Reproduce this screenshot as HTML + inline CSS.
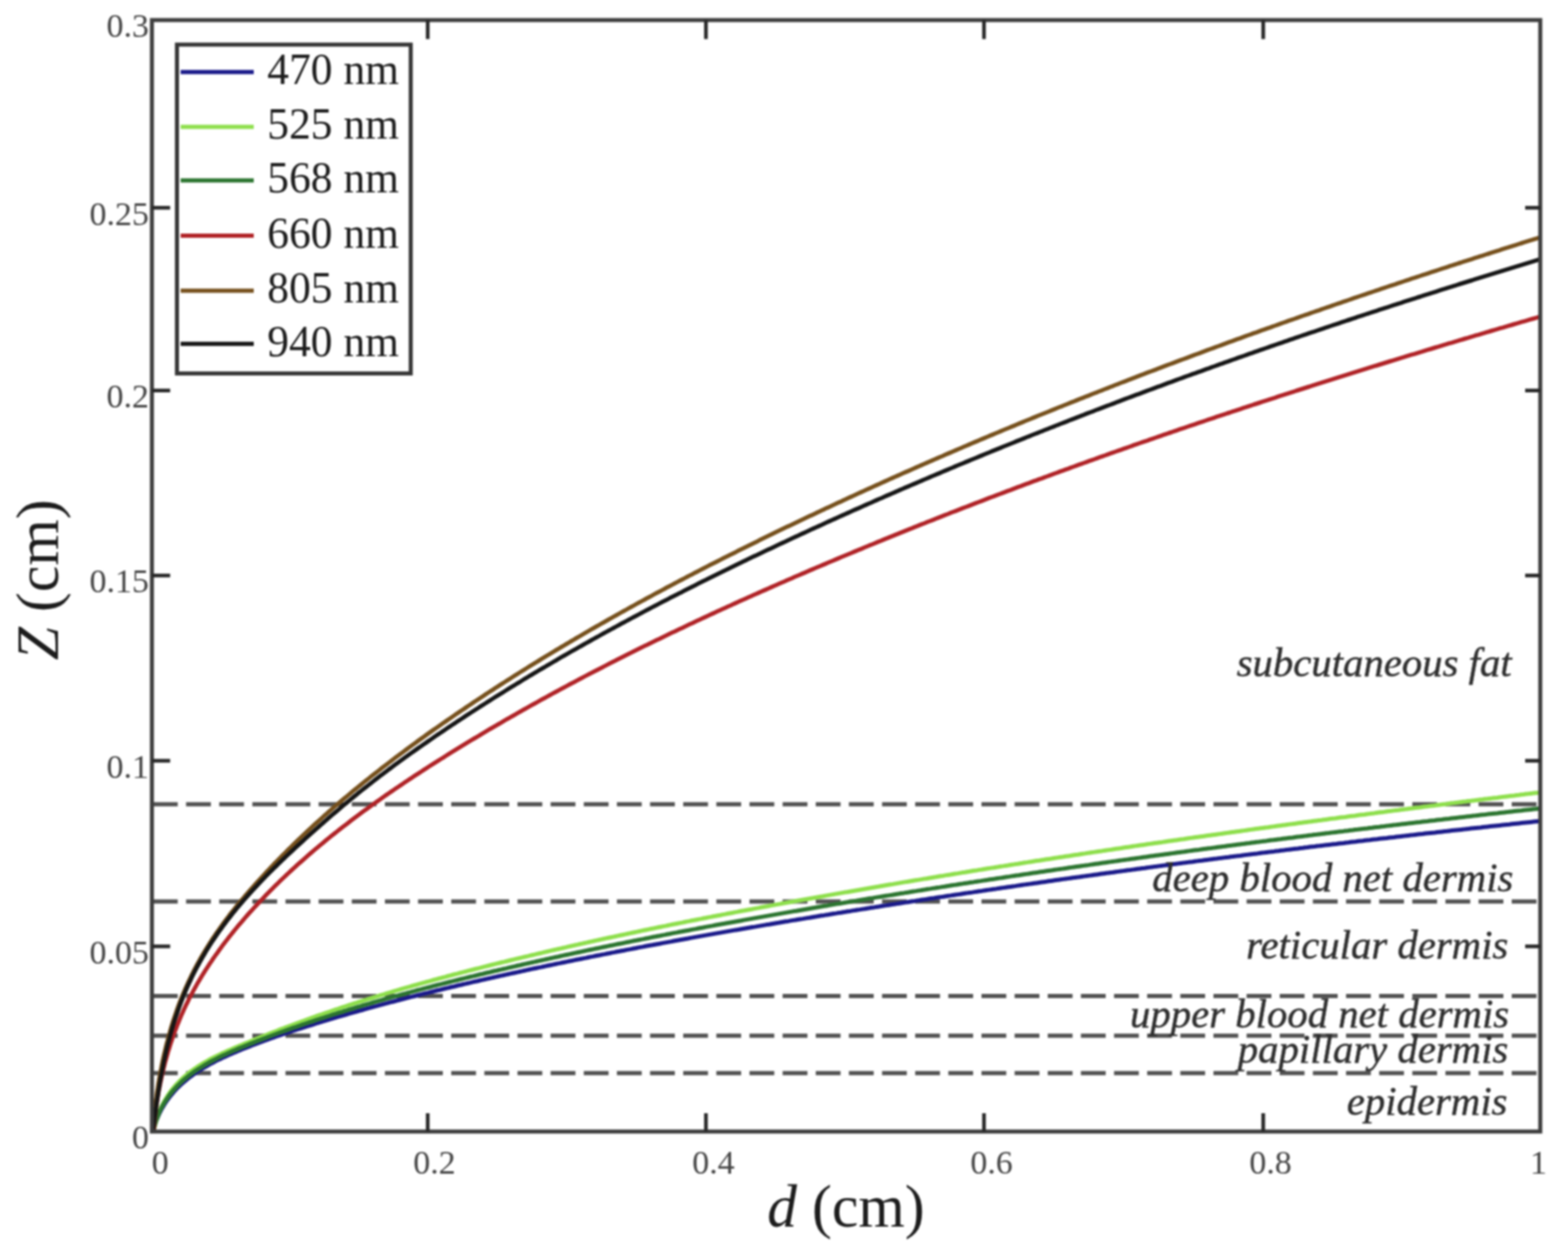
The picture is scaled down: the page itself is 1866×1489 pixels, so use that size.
<!DOCTYPE html>
<html><head><meta charset="utf-8"><title>Z vs d</title>
<style>html,body{margin:0;padding:0;background:#fff;overflow:hidden}svg{display:block}#w{filter:blur(1px)}</style>
</head><body>
<div id="w"><svg width="1866" height="1489" viewBox="0 0 1866 1489">
<rect width="1866" height="1489" fill="#fff"/>
<line x1="182" y1="957.2" x2="1829" y2="957.2" stroke="#525252" stroke-width="5" stroke-dasharray="29.5 9.94"/>
<line x1="182" y1="1072.9" x2="1829" y2="1072.9" stroke="#525252" stroke-width="5" stroke-dasharray="29.5 9.94"/>
<line x1="182" y1="1185.6" x2="1829" y2="1185.6" stroke="#525252" stroke-width="5" stroke-dasharray="29.5 9.94"/>
<line x1="182" y1="1232.8" x2="1829" y2="1232.8" stroke="#525252" stroke-width="5" stroke-dasharray="29.5 9.94"/>
<line x1="182" y1="1277.2" x2="1829" y2="1277.2" stroke="#525252" stroke-width="5" stroke-dasharray="29.5 9.94"/>
<polyline fill="none" stroke="#1a1a8a" stroke-width="5" stroke-linejoin="round" points="181.7,1347.6 182.5,1344.5 183.4,1341.4 184.3,1338.5 185.3,1335.6 186.4,1332.7 187.6,1329.9 188.8,1327.2 190.0,1324.6 191.4,1322.0 192.7,1319.4 194.2,1316.9 195.7,1314.5 197.2,1312.1 198.8,1309.8 200.5,1307.5 202.2,1305.3 203.9,1303.1 205.7,1301.0 207.5,1298.9 209.4,1296.8 211.3,1294.8 213.3,1292.9 215.3,1291.0 217.4,1289.1 219.5,1287.3 221.6,1285.5 223.7,1283.8 225.9,1282.1 228.2,1280.4 230.4,1278.8 232.7,1277.2 235.0,1275.6 237.4,1274.1 239.7,1272.6 242.1,1271.1 244.6,1269.7 247.0,1268.3 249.5,1266.9 252.0,1265.6 254.5,1264.2 257.0,1262.9 259.6,1261.6 262.2,1260.4 264.8,1259.1 267.4,1257.9 270.0,1256.7 272.6,1255.5 275.2,1254.4 277.9,1253.2 280.6,1252.1 283.2,1251.0 285.9,1249.9 288.6,1248.8 291.3,1247.7 294.0,1246.6 296.7,1245.6 299.4,1244.5 302.1,1243.5 304.8,1242.4 307.5,1241.4 310.2,1240.4 312.9,1239.4 315.6,1238.4 318.4,1237.4 321.1,1236.4 323.8,1235.4 326.6,1234.5 329.3,1233.5 332.0,1232.6 334.8,1231.6 337.5,1230.7 340.3,1229.8 343.0,1228.9 345.8,1227.9 348.5,1227.0 351.3,1226.1 354.0,1225.2 356.8,1224.3 359.6,1223.5 362.3,1222.6 365.1,1221.7 367.8,1220.8 370.6,1220.0 373.4,1219.1 376.1,1218.2 378.9,1217.4 381.6,1216.5 384.4,1215.7 387.2,1214.9 389.9,1214.0 392.7,1213.2 395.5,1212.4 398.2,1211.5 401.0,1210.7 403.8,1209.9 406.6,1209.1 409.3,1208.3 412.1,1207.5 414.9,1206.7 417.6,1205.9 420.4,1205.1 423.2,1204.3 426.0,1203.5 428.7,1202.7 431.5,1202.0 434.3,1201.2 437.1,1200.4 439.8,1199.7 442.6,1198.9 445.4,1198.1 448.2,1197.4 450.9,1196.6 453.7,1195.9 456.5,1195.1 459.3,1194.4 462.1,1193.6 464.8,1192.9 467.6,1192.2 470.4,1191.5 473.2,1190.7 476.0,1190.0 478.8,1189.3 481.5,1188.6 484.3,1187.9 487.1,1187.1 489.9,1186.4 492.7,1185.7 495.5,1185.0 498.3,1184.3 501.0,1183.6 503.8,1182.9 506.6,1182.2 509.4,1181.6 512.2,1180.9 515.0,1180.2 517.8,1179.5 520.6,1178.8 523.4,1178.2 526.2,1177.5 529.0,1176.8 531.8,1176.1 534.5,1175.5 537.3,1174.8 540.1,1174.2 542.9,1173.5 545.7,1172.8 548.5,1172.2 551.3,1171.5 554.1,1170.9 556.9,1170.2 559.7,1169.6 562.5,1168.9 565.3,1168.3 568.1,1167.7 570.9,1167.0 573.7,1166.4 576.5,1165.8 579.3,1165.1 582.1,1164.5 584.9,1163.9 587.7,1163.2 590.5,1162.6 593.3,1162.0 596.1,1161.4 599.0,1160.8 601.8,1160.1 604.6,1159.5 607.4,1158.9 610.2,1158.3 613.0,1157.7 615.8,1157.1 618.6,1156.5 621.4,1155.9 624.2,1155.2 627.0,1154.6 629.8,1154.0 632.6,1153.4 635.5,1152.8 638.3,1152.2 641.1,1151.6 643.9,1151.1 646.7,1150.5 649.5,1149.9 652.3,1149.3 655.1,1148.7 658.0,1148.1 660.8,1147.5 663.6,1146.9 666.4,1146.4 669.2,1145.8 672.0,1145.2 674.9,1144.6 677.7,1144.0 680.5,1143.5 683.3,1142.9 686.1,1142.3 688.9,1141.8 691.8,1141.2 694.6,1140.6 697.4,1140.1 700.2,1139.5 703.0,1138.9 705.9,1138.4 708.7,1137.8 711.5,1137.2 714.3,1136.7 717.1,1136.1 720.0,1135.6 722.8,1135.0 725.6,1134.5 728.4,1133.9 731.3,1133.4 734.1,1132.8 736.9,1132.3 739.7,1131.7 742.6,1131.2 745.4,1130.6 748.2,1130.1 751.0,1129.6 753.9,1129.0 756.7,1128.5 759.5,1127.9 762.3,1127.4 765.2,1126.9 768.0,1126.3 770.8,1125.8 773.6,1125.3 776.5,1124.8 779.3,1124.2 782.1,1123.7 785.0,1123.2 787.8,1122.6 790.6,1122.1 793.5,1121.6 796.3,1121.1 799.1,1120.6 801.9,1120.0 804.8,1119.5 807.6,1119.0 810.4,1118.5 813.3,1118.0 816.1,1117.5 818.9,1117.0 821.8,1116.4 824.6,1115.9 827.4,1115.4 830.3,1114.9 833.1,1114.4 835.9,1113.9 838.8,1113.4 841.6,1112.9 844.4,1112.4 847.3,1111.9 850.1,1111.4 852.9,1110.9 855.8,1110.4 858.6,1109.9 861.4,1109.4 864.3,1108.9 867.1,1108.4 870.0,1107.9 872.8,1107.4 875.6,1106.9 878.5,1106.5 881.3,1106.0 884.1,1105.5 887.0,1105.0 889.8,1104.5 892.7,1104.0 895.5,1103.5 898.3,1103.1 901.2,1102.6 904.0,1102.1 906.8,1101.6 909.7,1101.1 912.5,1100.6 915.4,1100.2 918.2,1099.7 921.0,1099.2 923.9,1098.7 926.7,1098.3 929.6,1097.8 932.4,1097.3 935.2,1096.8 938.1,1096.4 940.9,1095.9 943.8,1095.4 946.6,1095.0 949.4,1094.5 952.3,1094.0 955.1,1093.6 958.0,1093.1 960.8,1092.6 963.6,1092.2 966.5,1091.7 969.3,1091.2 972.2,1090.8 975.0,1090.3 977.8,1089.8 980.7,1089.4 983.5,1088.9 986.4,1088.5 989.2,1088.0 992.1,1087.5 994.9,1087.1 997.7,1086.6 1000.6,1086.2 1003.4,1085.7 1006.3,1085.3 1009.1,1084.8 1012.0,1084.4 1014.8,1083.9 1017.6,1083.5 1020.5,1083.0 1023.3,1082.6 1026.2,1082.1 1029.0,1081.7 1031.9,1081.2 1034.7,1080.8 1037.5,1080.3 1040.4,1079.9 1043.2,1079.4 1046.1,1079.0 1048.9,1078.5 1051.8,1078.1 1054.6,1077.6 1057.4,1077.2 1060.3,1076.7 1063.1,1076.3 1066.0,1075.9 1068.8,1075.4 1071.7,1075.0 1074.5,1074.5 1077.3,1074.1 1080.2,1073.7 1083.0,1073.2 1085.9,1072.8 1088.7,1072.4 1091.6,1071.9 1094.4,1071.5 1097.3,1071.0 1100.1,1070.6 1102.9,1070.2 1105.8,1069.7 1108.6,1069.3 1111.5,1068.9 1114.3,1068.4 1117.2,1068.0 1120.0,1067.6 1122.9,1067.2 1125.7,1066.7 1128.6,1066.3 1131.4,1065.9 1134.2,1065.4 1137.1,1065.0 1139.9,1064.6 1142.8,1064.2 1145.6,1063.7 1148.5,1063.3 1151.3,1062.9 1154.2,1062.5 1157.0,1062.1 1159.9,1061.6 1162.7,1061.2 1165.5,1060.8 1168.4,1060.4 1171.2,1059.9 1174.1,1059.5 1176.9,1059.1 1179.8,1058.7 1182.6,1058.3 1185.5,1057.9 1188.3,1057.4 1191.2,1057.0 1194.0,1056.6 1196.9,1056.2 1199.7,1055.8 1202.6,1055.4 1205.4,1055.0 1208.2,1054.6 1211.1,1054.1 1213.9,1053.7 1216.8,1053.3 1219.6,1052.9 1222.5,1052.5 1225.3,1052.1 1228.2,1051.7 1231.0,1051.3 1233.9,1050.9 1236.7,1050.5 1239.6,1050.1 1242.4,1049.7 1245.3,1049.3 1248.1,1048.8 1251.0,1048.4 1253.8,1048.0 1256.7,1047.6 1259.5,1047.2 1262.4,1046.8 1265.2,1046.4 1268.1,1046.0 1270.9,1045.6 1273.8,1045.2 1276.6,1044.8 1279.4,1044.4 1282.3,1044.1 1285.1,1043.7 1288.0,1043.3 1290.8,1042.9 1293.7,1042.5 1296.5,1042.1 1299.4,1041.7 1302.2,1041.3 1305.1,1040.9 1307.9,1040.5 1310.8,1040.1 1313.6,1039.7 1316.5,1039.3 1319.3,1038.9 1322.2,1038.6 1325.0,1038.2 1327.9,1037.8 1330.7,1037.4 1333.6,1037.0 1336.4,1036.6 1339.3,1036.2 1342.1,1035.8 1345.0,1035.5 1347.8,1035.1 1350.7,1034.7 1353.5,1034.3 1356.4,1033.9 1359.2,1033.5 1362.1,1033.2 1365.0,1032.8 1367.8,1032.4 1370.7,1032.0 1373.5,1031.6 1376.4,1031.3 1379.2,1030.9 1382.1,1030.5 1384.9,1030.1 1387.8,1029.8 1390.6,1029.4 1393.5,1029.0 1396.3,1028.6 1399.2,1028.3 1402.0,1027.9 1404.9,1027.5 1407.7,1027.1 1410.6,1026.8 1413.4,1026.4 1416.3,1026.0 1419.1,1025.7 1422.0,1025.3 1424.8,1024.9 1427.7,1024.5 1430.5,1024.2 1433.4,1023.8 1436.3,1023.4 1439.1,1023.1 1442.0,1022.7 1444.8,1022.3 1447.7,1022.0 1450.5,1021.6 1453.4,1021.3 1456.2,1020.9 1459.1,1020.5 1461.9,1020.2 1464.8,1019.8 1467.6,1019.4 1470.5,1019.1 1473.3,1018.7 1476.2,1018.4 1479.1,1018.0 1481.9,1017.6 1484.8,1017.3 1487.6,1016.9 1490.5,1016.6 1493.3,1016.2 1496.2,1015.9 1499.0,1015.5 1501.9,1015.1 1504.7,1014.8 1507.6,1014.4 1510.5,1014.1 1513.3,1013.7 1516.2,1013.4 1519.0,1013.0 1521.9,1012.7 1524.7,1012.3 1527.6,1012.0 1530.4,1011.6 1533.3,1011.3 1536.2,1010.9 1539.0,1010.6 1541.9,1010.2 1544.7,1009.9 1547.6,1009.5 1550.4,1009.2 1553.3,1008.8 1556.1,1008.5 1559.0,1008.1 1561.9,1007.8 1564.7,1007.5 1567.6,1007.1 1570.4,1006.8 1573.3,1006.4 1576.1,1006.1 1579.0,1005.7 1581.9,1005.4 1584.7,1005.1 1587.6,1004.7 1590.4,1004.4 1593.3,1004.0 1596.1,1003.7 1599.0,1003.4 1601.9,1003.0 1604.7,1002.7 1607.6,1002.3 1610.4,1002.0 1613.3,1001.7 1616.1,1001.3 1619.0,1001.0 1621.9,1000.7 1624.7,1000.3 1627.6,1000.0 1630.4,999.7 1633.3,999.3 1636.1,999.0 1639.0,998.7 1641.9,998.3 1644.7,998.0 1647.6,997.7 1650.4,997.4 1653.3,997.0 1656.2,996.7 1659.0,996.4 1661.9,996.0 1664.7,995.7 1667.6,995.4 1670.5,995.1 1673.3,994.7 1676.2,994.4 1679.0,994.1 1681.9,993.8 1684.8,993.4 1687.6,993.1 1690.5,992.8 1693.3,992.5 1696.2,992.1 1699.0,991.8 1701.9,991.5 1704.8,991.2 1707.6,990.9 1710.5,990.5 1713.4,990.2 1716.2,989.9 1719.1,989.6 1721.9,989.3 1724.8,988.9 1727.7,988.6 1730.5,988.3 1733.4,988.0 1736.2,987.7 1739.1,987.4 1742.0,987.1 1744.8,986.7 1747.7,986.4 1750.5,986.1 1753.4,985.8 1756.3,985.5 1759.1,985.2 1762.0,984.9 1764.9,984.5 1767.7,984.2 1770.6,983.9 1773.4,983.6 1776.3,983.3 1779.2,983.0 1782.0,982.7 1784.9,982.4 1787.7,982.1 1790.6,981.8 1793.5,981.5 1796.3,981.2 1799.2,980.8 1802.1,980.5 1804.9,980.2 1807.8,979.9 1810.7,979.6 1813.5,979.3 1816.4,979.0 1819.2,978.7 1822.1,978.4 1825.0,978.1 1827.8,977.8 1830.7,977.5 1833.6,977.2"/>
<polyline fill="none" stroke="#8edf4c" stroke-width="5" stroke-linejoin="round" points="182.7,1348.3 183.3,1345.0 183.9,1341.8 184.6,1338.7 185.4,1335.7 186.3,1332.7 187.2,1329.7 188.2,1326.8 189.3,1324.0 190.4,1321.2 191.6,1318.5 192.8,1315.9 194.2,1313.3 195.5,1310.7 197.0,1308.2 198.5,1305.8 200.0,1303.4 201.6,1301.1 203.3,1298.8 205.0,1296.6 206.8,1294.4 208.6,1292.3 210.5,1290.2 212.4,1288.2 214.3,1286.2 216.4,1284.3 218.4,1282.4 220.5,1280.6 222.6,1278.8 224.8,1277.0 227.0,1275.3 229.3,1273.7 231.6,1272.0 233.9,1270.5 236.3,1268.9 238.7,1267.4 241.1,1265.9 243.5,1264.5 246.0,1263.1 248.5,1261.7 251.0,1260.3 253.6,1259.0 256.1,1257.7 258.7,1256.4 261.3,1255.2 263.9,1253.9 266.6,1252.7 269.2,1251.5 271.9,1250.3 274.6,1249.2 277.2,1248.0 279.9,1246.9 282.6,1245.7 285.3,1244.6 288.0,1243.5 290.7,1242.4 293.4,1241.3 296.1,1240.2 298.8,1239.1 301.5,1238.0 304.2,1236.9 306.9,1235.8 309.7,1234.7 312.4,1233.6 315.1,1232.6 317.8,1231.5 320.5,1230.4 323.2,1229.4 325.9,1228.3 328.6,1227.3 331.3,1226.2 334.0,1225.2 336.7,1224.2 339.4,1223.1 342.2,1222.1 344.9,1221.1 347.6,1220.1 350.3,1219.0 353.0,1218.0 355.7,1217.0 358.5,1216.0 361.2,1215.1 363.9,1214.1 366.6,1213.1 369.4,1212.1 372.1,1211.1 374.8,1210.2 377.5,1209.2 380.3,1208.2 383.0,1207.3 385.7,1206.3 388.5,1205.4 391.2,1204.5 394.0,1203.5 396.7,1202.6 399.4,1201.7 402.2,1200.8 404.9,1199.8 407.7,1198.9 410.4,1198.0 413.2,1197.1 415.9,1196.2 418.7,1195.3 421.4,1194.4 424.2,1193.6 426.9,1192.7 429.7,1191.8 432.5,1190.9 435.2,1190.1 438.0,1189.2 440.8,1188.3 443.5,1187.5 446.3,1186.6 449.0,1185.8 451.8,1184.9 454.6,1184.1 457.4,1183.3 460.1,1182.4 462.9,1181.6 465.7,1180.8 468.5,1180.0 471.2,1179.2 474.0,1178.3 476.8,1177.5 479.6,1176.7 482.3,1175.9 485.1,1175.1 487.9,1174.3 490.7,1173.5 493.5,1172.7 496.3,1172.0 499.0,1171.2 501.8,1170.4 504.6,1169.6 507.4,1168.8 510.2,1168.1 513.0,1167.3 515.8,1166.5 518.6,1165.8 521.4,1165.0 524.2,1164.3 527.0,1163.5 529.7,1162.8 532.5,1162.0 535.3,1161.3 538.1,1160.5 540.9,1159.8 543.7,1159.1 546.5,1158.3 549.3,1157.6 552.1,1156.9 554.9,1156.2 557.7,1155.4 560.5,1154.7 563.4,1154.0 566.2,1153.3 569.0,1152.6 571.8,1151.9 574.6,1151.1 577.4,1150.4 580.2,1149.7 583.0,1149.0 585.8,1148.3 588.6,1147.6 591.4,1146.9 594.2,1146.2 597.0,1145.5 599.9,1144.9 602.7,1144.2 605.5,1143.5 608.3,1142.8 611.1,1142.1 613.9,1141.4 616.7,1140.8 619.5,1140.1 622.4,1139.4 625.2,1138.7 628.0,1138.1 630.8,1137.4 633.6,1136.7 636.4,1136.1 639.3,1135.4 642.1,1134.7 644.9,1134.1 647.7,1133.4 650.5,1132.8 653.3,1132.1 656.2,1131.4 659.0,1130.8 661.8,1130.1 664.6,1129.5 667.5,1128.9 670.3,1128.2 673.1,1127.6 675.9,1126.9 678.7,1126.3 681.6,1125.6 684.4,1125.0 687.2,1124.4 690.0,1123.7 692.9,1123.1 695.7,1122.5 698.5,1121.9 701.3,1121.2 704.2,1120.6 707.0,1120.0 709.8,1119.4 712.6,1118.8 715.5,1118.1 718.3,1117.5 721.1,1116.9 724.0,1116.3 726.8,1115.7 729.6,1115.1 732.5,1114.5 735.3,1113.9 738.1,1113.3 740.9,1112.7 743.8,1112.1 746.6,1111.5 749.4,1110.9 752.3,1110.3 755.1,1109.7 757.9,1109.1 760.8,1108.5 763.6,1107.9 766.4,1107.3 769.3,1106.7 772.1,1106.1 775.0,1105.5 777.8,1105.0 780.6,1104.4 783.5,1103.8 786.3,1103.2 789.1,1102.6 792.0,1102.1 794.8,1101.5 797.6,1100.9 800.5,1100.3 803.3,1099.8 806.2,1099.2 809.0,1098.6 811.8,1098.1 814.7,1097.5 817.5,1096.9 820.4,1096.4 823.2,1095.8 826.0,1095.3 828.9,1094.7 831.7,1094.1 834.6,1093.6 837.4,1093.0 840.2,1092.5 843.1,1091.9 845.9,1091.4 848.8,1090.8 851.6,1090.3 854.5,1089.7 857.3,1089.2 860.1,1088.6 863.0,1088.1 865.8,1087.5 868.7,1087.0 871.5,1086.5 874.4,1085.9 877.2,1085.4 880.1,1084.8 882.9,1084.3 885.8,1083.8 888.6,1083.2 891.4,1082.7 894.3,1082.2 897.1,1081.6 900.0,1081.1 902.8,1080.6 905.7,1080.0 908.5,1079.5 911.4,1079.0 914.2,1078.5 917.1,1077.9 919.9,1077.4 922.8,1076.9 925.6,1076.4 928.5,1075.9 931.3,1075.3 934.2,1074.8 937.0,1074.3 939.9,1073.8 942.7,1073.3 945.6,1072.8 948.4,1072.2 951.3,1071.7 954.1,1071.2 957.0,1070.7 959.8,1070.2 962.7,1069.7 965.5,1069.2 968.4,1068.7 971.2,1068.2 974.1,1067.7 976.9,1067.2 979.8,1066.7 982.6,1066.1 985.5,1065.6 988.3,1065.1 991.2,1064.6 994.0,1064.1 996.9,1063.6 999.7,1063.1 1002.6,1062.6 1005.4,1062.1 1008.3,1061.7 1011.1,1061.2 1014.0,1060.7 1016.8,1060.2 1019.7,1059.7 1022.6,1059.2 1025.4,1058.7 1028.3,1058.2 1031.1,1057.7 1034.0,1057.2 1036.8,1056.7 1039.7,1056.2 1042.5,1055.7 1045.4,1055.3 1048.2,1054.8 1051.1,1054.3 1053.9,1053.8 1056.8,1053.3 1059.7,1052.8 1062.5,1052.4 1065.4,1051.9 1068.2,1051.4 1071.1,1050.9 1073.9,1050.4 1076.8,1049.9 1079.6,1049.5 1082.5,1049.0 1085.4,1048.5 1088.2,1048.0 1091.1,1047.6 1093.9,1047.1 1096.8,1046.6 1099.6,1046.1 1102.5,1045.7 1105.3,1045.2 1108.2,1044.7 1111.1,1044.2 1113.9,1043.8 1116.8,1043.3 1119.6,1042.8 1122.5,1042.4 1125.3,1041.9 1128.2,1041.4 1131.1,1041.0 1133.9,1040.5 1136.8,1040.0 1139.6,1039.6 1142.5,1039.1 1145.3,1038.6 1148.2,1038.2 1151.1,1037.7 1153.9,1037.3 1156.8,1036.8 1159.6,1036.3 1162.5,1035.9 1165.4,1035.4 1168.2,1035.0 1171.1,1034.5 1173.9,1034.0 1176.8,1033.6 1179.6,1033.1 1182.5,1032.7 1185.4,1032.2 1188.2,1031.8 1191.1,1031.3 1193.9,1030.9 1196.8,1030.4 1199.7,1030.0 1202.5,1029.5 1205.4,1029.1 1208.2,1028.6 1211.1,1028.2 1214.0,1027.7 1216.8,1027.3 1219.7,1026.8 1222.5,1026.4 1225.4,1025.9 1228.3,1025.5 1231.1,1025.0 1234.0,1024.6 1236.8,1024.2 1239.7,1023.7 1242.6,1023.3 1245.4,1022.8 1248.3,1022.4 1251.1,1022.0 1254.0,1021.5 1256.9,1021.1 1259.7,1020.6 1262.6,1020.2 1265.5,1019.8 1268.3,1019.3 1271.2,1018.9 1274.0,1018.5 1276.9,1018.0 1279.8,1017.6 1282.6,1017.2 1285.5,1016.7 1288.4,1016.3 1291.2,1015.9 1294.1,1015.4 1296.9,1015.0 1299.8,1014.6 1302.7,1014.1 1305.5,1013.7 1308.4,1013.3 1311.3,1012.9 1314.1,1012.4 1317.0,1012.0 1319.8,1011.6 1322.7,1011.2 1325.6,1010.7 1328.4,1010.3 1331.3,1009.9 1334.2,1009.5 1337.0,1009.0 1339.9,1008.6 1342.8,1008.2 1345.6,1007.8 1348.5,1007.3 1351.3,1006.9 1354.2,1006.5 1357.1,1006.1 1359.9,1005.7 1362.8,1005.3 1365.7,1004.8 1368.5,1004.4 1371.4,1004.0 1374.3,1003.6 1377.1,1003.2 1380.0,1002.8 1382.9,1002.4 1385.7,1001.9 1388.6,1001.5 1391.5,1001.1 1394.3,1000.7 1397.2,1000.3 1400.1,999.9 1402.9,999.5 1405.8,999.1 1408.7,998.7 1411.5,998.2 1414.4,997.8 1417.2,997.4 1420.1,997.0 1423.0,996.6 1425.8,996.2 1428.7,995.8 1431.6,995.4 1434.4,995.0 1437.3,994.6 1440.2,994.2 1443.0,993.8 1445.9,993.4 1448.8,993.0 1451.6,992.6 1454.5,992.2 1457.4,991.8 1460.2,991.4 1463.1,991.0 1466.0,990.6 1468.9,990.2 1471.7,989.8 1474.6,989.4 1477.5,989.0 1480.3,988.6 1483.2,988.2 1486.1,987.8 1488.9,987.4 1491.8,987.0 1494.7,986.6 1497.5,986.2 1500.4,985.8 1503.3,985.4 1506.1,985.0 1509.0,984.7 1511.9,984.3 1514.7,983.9 1517.6,983.5 1520.5,983.1 1523.3,982.7 1526.2,982.3 1529.1,981.9 1532.0,981.5 1534.8,981.1 1537.7,980.8 1540.6,980.4 1543.4,980.0 1546.3,979.6 1549.2,979.2 1552.0,978.8 1554.9,978.4 1557.8,978.1 1560.6,977.7 1563.5,977.3 1566.4,976.9 1569.3,976.5 1572.1,976.2 1575.0,975.8 1577.9,975.4 1580.7,975.0 1583.6,974.6 1586.5,974.2 1589.3,973.9 1592.2,973.5 1595.1,973.1 1598.0,972.7 1600.8,972.4 1603.7,972.0 1606.6,971.6 1609.4,971.2 1612.3,970.9 1615.2,970.5 1618.1,970.1 1620.9,969.7 1623.8,969.4 1626.7,969.0 1629.5,968.6 1632.4,968.2 1635.3,967.9 1638.1,967.5 1641.0,967.1 1643.9,966.7 1646.8,966.4 1649.6,966.0 1652.5,965.6 1655.4,965.3 1658.2,964.9 1661.1,964.5 1664.0,964.2 1666.9,963.8 1669.7,963.4 1672.6,963.1 1675.5,962.7 1678.4,962.3 1681.2,962.0 1684.1,961.6 1687.0,961.2 1689.8,960.9 1692.7,960.5 1695.6,960.1 1698.5,959.8 1701.3,959.4 1704.2,959.0 1707.1,958.7 1709.9,958.3 1712.8,957.9 1715.7,957.6 1718.6,957.2 1721.4,956.9 1724.3,956.5 1727.2,956.1 1730.1,955.8 1732.9,955.4 1735.8,955.1 1738.7,954.7 1741.5,954.3 1744.4,954.0 1747.3,953.6 1750.2,953.3 1753.0,952.9 1755.9,952.6 1758.8,952.2 1761.7,951.8 1764.5,951.5 1767.4,951.1 1770.3,950.8 1773.2,950.4 1776.0,950.1 1778.9,949.7 1781.8,949.4 1784.7,949.0 1787.5,948.6 1790.4,948.3 1793.3,947.9 1796.1,947.6 1799.0,947.2 1801.9,946.9 1804.8,946.5 1807.6,946.2 1810.5,945.8 1813.4,945.5 1816.3,945.1 1819.1,944.8 1822.0,944.4 1824.9,944.1 1827.8,943.7 1830.6,943.4 1833.5,943.0"/>
<polyline fill="none" stroke="#2c7530" stroke-width="5" stroke-linejoin="round" points="182.2,1348.0 182.9,1344.8 183.6,1341.7 184.5,1338.6 185.4,1335.6 186.3,1332.6 187.4,1329.8 188.5,1327.0 189.6,1324.2 190.8,1321.5 192.1,1318.9 193.5,1316.3 194.9,1313.8 196.4,1311.4 197.9,1309.0 199.5,1306.6 201.1,1304.3 202.8,1302.1 204.5,1299.9 206.3,1297.8 208.2,1295.7 210.1,1293.6 212.0,1291.7 214.0,1289.7 216.0,1287.8 218.0,1285.9 220.1,1284.1 222.3,1282.4 224.4,1280.6 226.6,1278.9 228.9,1277.3 231.2,1275.6 233.5,1274.0 235.8,1272.5 238.2,1271.0 240.6,1269.5 243.0,1268.0 245.4,1266.6 247.9,1265.2 250.4,1263.8 252.9,1262.5 255.5,1261.2 258.0,1259.9 260.6,1258.6 263.2,1257.3 265.8,1256.1 268.4,1254.9 271.1,1253.7 273.7,1252.5 276.4,1251.3 279.0,1250.2 281.7,1249.1 284.4,1247.9 287.1,1246.8 289.8,1245.7 292.5,1244.6 295.2,1243.5 297.9,1242.4 300.6,1241.4 303.3,1240.3 306.0,1239.2 308.7,1238.2 311.4,1237.1 314.1,1236.1 316.8,1235.1 319.5,1234.0 322.2,1233.0 325.0,1232.0 327.7,1231.0 330.4,1230.0 333.1,1229.0 335.9,1228.0 338.6,1227.1 341.3,1226.1 344.1,1225.1 346.8,1224.2 349.5,1223.2 352.3,1222.3 355.0,1221.3 357.8,1220.4 360.5,1219.4 363.2,1218.5 366.0,1217.6 368.7,1216.7 371.5,1215.8 374.2,1214.8 377.0,1213.9 379.7,1213.0 382.5,1212.1 385.2,1211.3 388.0,1210.4 390.7,1209.5 393.5,1208.6 396.2,1207.7 399.0,1206.9 401.8,1206.0 404.5,1205.1 407.3,1204.3 410.0,1203.4 412.8,1202.6 415.6,1201.7 418.3,1200.9 421.1,1200.1 423.8,1199.2 426.6,1198.4 429.4,1197.6 432.1,1196.7 434.9,1195.9 437.7,1195.1 440.5,1194.3 443.2,1193.5 446.0,1192.7 448.8,1191.9 451.5,1191.1 454.3,1190.3 457.1,1189.5 459.9,1188.7 462.6,1188.0 465.4,1187.2 468.2,1186.4 471.0,1185.6 473.8,1184.9 476.5,1184.1 479.3,1183.3 482.1,1182.6 484.9,1181.8 487.7,1181.1 490.5,1180.3 493.2,1179.6 496.0,1178.8 498.8,1178.1 501.6,1177.4 504.4,1176.6 507.2,1175.9 510.0,1175.2 512.8,1174.5 515.6,1173.7 518.3,1173.0 521.1,1172.3 523.9,1171.6 526.7,1170.9 529.5,1170.2 532.3,1169.5 535.1,1168.8 537.9,1168.1 540.7,1167.4 543.5,1166.7 546.3,1166.0 549.1,1165.3 551.9,1164.6 554.7,1163.9 557.5,1163.2 560.3,1162.5 563.1,1161.9 565.9,1161.2 568.7,1160.5 571.5,1159.8 574.3,1159.2 577.1,1158.5 579.9,1157.8 582.7,1157.2 585.5,1156.5 588.3,1155.8 591.1,1155.2 593.9,1154.5 596.7,1153.9 599.5,1153.2 602.4,1152.6 605.2,1151.9 608.0,1151.3 610.8,1150.6 613.6,1150.0 616.4,1149.3 619.2,1148.7 622.0,1148.0 624.8,1147.4 627.6,1146.8 630.5,1146.1 633.3,1145.5 636.1,1144.9 638.9,1144.2 641.7,1143.6 644.5,1143.0 647.3,1142.4 650.2,1141.7 653.0,1141.1 655.8,1140.5 658.6,1139.9 661.4,1139.3 664.2,1138.7 667.1,1138.0 669.9,1137.4 672.7,1136.8 675.5,1136.2 678.3,1135.6 681.2,1135.0 684.0,1134.4 686.8,1133.8 689.6,1133.2 692.4,1132.6 695.3,1132.0 698.1,1131.4 700.9,1130.8 703.7,1130.2 706.6,1129.6 709.4,1129.0 712.2,1128.5 715.0,1127.9 717.8,1127.3 720.7,1126.7 723.5,1126.1 726.3,1125.5 729.1,1125.0 732.0,1124.4 734.8,1123.8 737.6,1123.2 740.5,1122.7 743.3,1122.1 746.1,1121.5 748.9,1121.0 751.8,1120.4 754.6,1119.8 757.4,1119.3 760.3,1118.7 763.1,1118.1 765.9,1117.6 768.7,1117.0 771.6,1116.5 774.4,1115.9 777.2,1115.3 780.1,1114.8 782.9,1114.2 785.7,1113.7 788.6,1113.1 791.4,1112.6 794.2,1112.0 797.1,1111.5 799.9,1110.9 802.7,1110.4 805.6,1109.9 808.4,1109.3 811.2,1108.8 814.1,1108.2 816.9,1107.7 819.7,1107.2 822.6,1106.6 825.4,1106.1 828.3,1105.6 831.1,1105.0 833.9,1104.5 836.8,1104.0 839.6,1103.4 842.4,1102.9 845.3,1102.4 848.1,1101.9 851.0,1101.3 853.8,1100.8 856.6,1100.3 859.5,1099.8 862.3,1099.3 865.1,1098.7 868.0,1098.2 870.8,1097.7 873.7,1097.2 876.5,1096.7 879.3,1096.2 882.2,1095.7 885.0,1095.1 887.9,1094.6 890.7,1094.1 893.6,1093.6 896.4,1093.1 899.2,1092.6 902.1,1092.1 904.9,1091.6 907.8,1091.1 910.6,1090.6 913.5,1090.1 916.3,1089.6 919.1,1089.1 922.0,1088.6 924.8,1088.1 927.7,1087.6 930.5,1087.1 933.4,1086.6 936.2,1086.1 939.0,1085.6 941.9,1085.1 944.7,1084.6 947.6,1084.2 950.4,1083.7 953.3,1083.2 956.1,1082.7 959.0,1082.2 961.8,1081.7 964.6,1081.2 967.5,1080.7 970.3,1080.3 973.2,1079.8 976.0,1079.3 978.9,1078.8 981.7,1078.3 984.6,1077.9 987.4,1077.4 990.3,1076.9 993.1,1076.4 996.0,1075.9 998.8,1075.5 1001.6,1075.0 1004.5,1074.5 1007.3,1074.0 1010.2,1073.6 1013.0,1073.1 1015.9,1072.6 1018.7,1072.2 1021.6,1071.7 1024.4,1071.2 1027.3,1070.7 1030.1,1070.3 1033.0,1069.8 1035.8,1069.3 1038.7,1068.9 1041.5,1068.4 1044.4,1067.9 1047.2,1067.5 1050.1,1067.0 1052.9,1066.5 1055.8,1066.1 1058.6,1065.6 1061.4,1065.2 1064.3,1064.7 1067.1,1064.2 1070.0,1063.8 1072.8,1063.3 1075.7,1062.9 1078.5,1062.4 1081.4,1062.0 1084.2,1061.5 1087.1,1061.0 1089.9,1060.6 1092.8,1060.1 1095.6,1059.7 1098.5,1059.2 1101.3,1058.8 1104.2,1058.3 1107.0,1057.9 1109.9,1057.4 1112.7,1057.0 1115.6,1056.5 1118.4,1056.1 1121.3,1055.6 1124.1,1055.2 1127.0,1054.7 1129.8,1054.3 1132.7,1053.8 1135.5,1053.4 1138.4,1053.0 1141.2,1052.5 1144.1,1052.1 1146.9,1051.6 1149.8,1051.2 1152.7,1050.8 1155.5,1050.3 1158.4,1049.9 1161.2,1049.4 1164.1,1049.0 1166.9,1048.6 1169.8,1048.1 1172.6,1047.7 1175.5,1047.3 1178.3,1046.8 1181.2,1046.4 1184.0,1046.0 1186.9,1045.5 1189.7,1045.1 1192.6,1044.7 1195.4,1044.2 1198.3,1043.8 1201.1,1043.4 1204.0,1042.9 1206.8,1042.5 1209.7,1042.1 1212.5,1041.7 1215.4,1041.2 1218.3,1040.8 1221.1,1040.4 1224.0,1040.0 1226.8,1039.5 1229.7,1039.1 1232.5,1038.7 1235.4,1038.3 1238.2,1037.8 1241.1,1037.4 1243.9,1037.0 1246.8,1036.6 1249.6,1036.2 1252.5,1035.8 1255.4,1035.3 1258.2,1034.9 1261.1,1034.5 1263.9,1034.1 1266.8,1033.7 1269.6,1033.3 1272.5,1032.8 1275.3,1032.4 1278.2,1032.0 1281.1,1031.6 1283.9,1031.2 1286.8,1030.8 1289.6,1030.4 1292.5,1030.0 1295.3,1029.6 1298.2,1029.1 1301.0,1028.7 1303.9,1028.3 1306.8,1027.9 1309.6,1027.5 1312.5,1027.1 1315.3,1026.7 1318.2,1026.3 1321.0,1025.9 1323.9,1025.5 1326.7,1025.1 1329.6,1024.7 1332.5,1024.3 1335.3,1023.9 1338.2,1023.5 1341.0,1023.1 1343.9,1022.7 1346.7,1022.3 1349.6,1021.9 1352.5,1021.5 1355.3,1021.1 1358.2,1020.7 1361.0,1020.3 1363.9,1019.9 1366.7,1019.5 1369.6,1019.1 1372.5,1018.7 1375.3,1018.3 1378.2,1017.9 1381.0,1017.6 1383.9,1017.2 1386.7,1016.8 1389.6,1016.4 1392.5,1016.0 1395.3,1015.6 1398.2,1015.2 1401.0,1014.8 1403.9,1014.4 1406.8,1014.1 1409.6,1013.7 1412.5,1013.3 1415.3,1012.9 1418.2,1012.5 1421.1,1012.1 1423.9,1011.7 1426.8,1011.4 1429.6,1011.0 1432.5,1010.6 1435.3,1010.2 1438.2,1009.8 1441.1,1009.5 1443.9,1009.1 1446.8,1008.7 1449.6,1008.3 1452.5,1007.9 1455.4,1007.6 1458.2,1007.2 1461.1,1006.8 1463.9,1006.4 1466.8,1006.1 1469.7,1005.7 1472.5,1005.3 1475.4,1004.9 1478.3,1004.6 1481.1,1004.2 1484.0,1003.8 1486.8,1003.5 1489.7,1003.1 1492.6,1002.7 1495.4,1002.3 1498.3,1002.0 1501.1,1001.6 1504.0,1001.2 1506.9,1000.9 1509.7,1000.5 1512.6,1000.1 1515.4,999.8 1518.3,999.4 1521.2,999.0 1524.0,998.7 1526.9,998.3 1529.8,997.9 1532.6,997.6 1535.5,997.2 1538.3,996.9 1541.2,996.5 1544.1,996.1 1546.9,995.8 1549.8,995.4 1552.7,995.1 1555.5,994.7 1558.4,994.3 1561.2,994.0 1564.1,993.6 1567.0,993.3 1569.8,992.9 1572.7,992.6 1575.6,992.2 1578.4,991.8 1581.3,991.5 1584.1,991.1 1587.0,990.8 1589.9,990.4 1592.7,990.1 1595.6,989.7 1598.5,989.4 1601.3,989.0 1604.2,988.7 1607.1,988.3 1609.9,988.0 1612.8,987.6 1615.7,987.3 1618.5,986.9 1621.4,986.6 1624.2,986.2 1627.1,985.9 1630.0,985.5 1632.8,985.2 1635.7,984.8 1638.6,984.5 1641.4,984.2 1644.3,983.8 1647.2,983.5 1650.0,983.1 1652.9,982.8 1655.8,982.4 1658.6,982.1 1661.5,981.8 1664.4,981.4 1667.2,981.1 1670.1,980.7 1673.0,980.4 1675.8,980.1 1678.7,979.7 1681.5,979.4 1684.4,979.1 1687.3,978.7 1690.1,978.4 1693.0,978.0 1695.9,977.7 1698.7,977.4 1701.6,977.0 1704.5,976.7 1707.3,976.4 1710.2,976.0 1713.1,975.7 1715.9,975.4 1718.8,975.0 1721.7,974.7 1724.5,974.4 1727.4,974.0 1730.3,973.7 1733.1,973.4 1736.0,973.1 1738.9,972.7 1741.7,972.4 1744.6,972.1 1747.5,971.7 1750.4,971.4 1753.2,971.1 1756.1,970.8 1759.0,970.4 1761.8,970.1 1764.7,969.8 1767.6,969.5 1770.4,969.1 1773.3,968.8 1776.2,968.5 1779.0,968.2 1781.9,967.9 1784.8,967.5 1787.6,967.2 1790.5,966.9 1793.4,966.6 1796.2,966.2 1799.1,965.9 1802.0,965.6 1804.8,965.3 1807.7,965.0 1810.6,964.7 1813.5,964.3 1816.3,964.0 1819.2,963.7 1822.1,963.4 1824.9,963.1 1827.8,962.8 1830.7,962.4 1833.5,962.1"/>
<polyline fill="none" stroke="#b02226" stroke-width="5" stroke-linejoin="round" points="182.8,1347.4 183.1,1344.0 183.4,1340.6 183.7,1337.2 184.0,1333.8 184.4,1330.5 184.8,1327.1 185.2,1323.7 185.6,1320.4 186.0,1317.0 186.5,1313.7 187.0,1310.3 187.5,1307.0 188.1,1303.7 188.6,1300.4 189.2,1297.0 189.9,1293.7 190.5,1290.4 191.2,1287.2 191.9,1283.9 192.6,1280.6 193.3,1277.3 194.1,1274.1 194.9,1270.8 195.7,1267.6 196.5,1264.4 197.4,1261.2 198.3,1258.0 199.2,1254.8 200.1,1251.6 201.1,1248.4 202.1,1245.2 203.1,1242.1 204.2,1238.9 205.2,1235.8 206.3,1232.6 207.4,1229.5 208.6,1226.4 209.8,1223.3 211.0,1220.2 212.2,1217.2 213.5,1214.1 214.7,1211.1 216.0,1208.0 217.4,1205.0 218.7,1202.0 220.1,1199.0 221.5,1196.0 223.0,1193.1 224.4,1190.1 225.9,1187.2 227.5,1184.2 229.0,1181.3 230.6,1178.4 232.2,1175.5 233.8,1172.6 235.4,1169.8 237.1,1166.9 238.8,1164.1 240.5,1161.3 242.3,1158.4 244.0,1155.6 245.8,1152.9 247.6,1150.1 249.4,1147.3 251.3,1144.6 253.1,1141.8 255.0,1139.1 256.9,1136.4 258.9,1133.7 260.8,1131.0 262.8,1128.3 264.7,1125.6 266.7,1123.0 268.8,1120.3 270.8,1117.7 272.8,1115.1 274.9,1112.5 277.0,1109.9 279.1,1107.3 281.2,1104.7 283.3,1102.2 285.5,1099.6 287.7,1097.1 289.8,1094.6 292.0,1092.0 294.2,1089.5 296.4,1087.0 298.7,1084.6 300.9,1082.1 303.2,1079.6 305.4,1077.2 307.7,1074.7 310.0,1072.3 312.3,1069.9 314.6,1067.5 316.9,1065.1 319.2,1062.7 321.6,1060.3 323.9,1058.0 326.3,1055.6 328.6,1053.3 331.0,1051.0 333.4,1048.6 335.8,1046.3 338.2,1044.0 340.6,1041.7 343.0,1039.5 345.5,1037.2 347.9,1034.9 350.4,1032.7 352.8,1030.4 355.3,1028.2 357.8,1026.0 360.3,1023.8 362.8,1021.6 365.3,1019.4 367.8,1017.2 370.3,1015.0 372.8,1012.9 375.4,1010.7 377.9,1008.6 380.5,1006.4 383.0,1004.3 385.6,1002.2 388.2,1000.0 390.8,997.9 393.3,995.8 395.9,993.8 398.5,991.7 401.2,989.6 403.8,987.5 406.4,985.5 409.0,983.4 411.7,981.4 414.3,979.4 417.0,977.3 419.6,975.3 422.3,973.3 425.0,971.3 427.7,969.3 430.3,967.3 433.0,965.3 435.7,963.4 438.4,961.4 441.1,959.4 443.8,957.5 446.6,955.5 449.3,953.6 452.0,951.7 454.7,949.8 457.5,947.8 460.2,945.9 463.0,944.0 465.7,942.1 468.5,940.2 471.2,938.3 474.0,936.5 476.8,934.6 479.6,932.7 482.3,930.8 485.1,929.0 487.9,927.1 490.7,925.3 493.5,923.4 496.3,921.6 499.1,919.8 501.9,918.0 504.7,916.1 507.5,914.3 510.3,912.5 513.2,910.7 516.0,908.9 518.8,907.1 521.6,905.3 524.5,903.5 527.3,901.8 530.1,900.0 533.0,898.2 535.8,896.4 538.6,894.7 541.5,892.9 544.3,891.2 547.2,889.4 550.0,887.7 552.9,885.9 555.7,884.2 558.6,882.4 561.5,880.7 564.3,879.0 567.2,877.3 570.1,875.6 572.9,873.8 575.8,872.1 578.7,870.4 581.5,868.7 584.4,867.0 587.3,865.3 590.2,863.7 593.1,862.0 596.0,860.3 598.8,858.6 601.7,856.9 604.6,855.3 607.5,853.6 610.4,852.0 613.3,850.3 616.2,848.6 619.1,847.0 622.0,845.3 624.9,843.7 627.8,842.1 630.8,840.4 633.7,838.8 636.6,837.2 639.5,835.6 642.4,833.9 645.3,832.3 648.3,830.7 651.2,829.1 654.1,827.5 657.0,825.9 660.0,824.3 662.9,822.7 665.8,821.1 668.8,819.5 671.7,818.0 674.7,816.4 677.6,814.8 680.5,813.2 683.5,811.7 686.4,810.1 689.4,808.5 692.3,807.0 695.3,805.4 698.2,803.9 701.2,802.3 704.2,800.8 707.1,799.3 710.1,797.7 713.0,796.2 716.0,794.7 719.0,793.1 721.9,791.6 724.9,790.1 727.9,788.6 730.9,787.1 733.8,785.5 736.8,784.0 739.8,782.5 742.8,781.0 745.7,779.5 748.7,778.0 751.7,776.6 754.7,775.1 757.7,773.6 760.7,772.1 763.7,770.6 766.6,769.1 769.6,767.7 772.6,766.2 775.6,764.7 778.6,763.3 781.6,761.8 784.6,760.4 787.6,758.9 790.6,757.4 793.6,756.0 796.6,754.5 799.6,753.1 802.7,751.7 805.7,750.2 808.7,748.8 811.7,747.4 814.7,745.9 817.7,744.5 820.7,743.1 823.8,741.7 826.8,740.2 829.8,738.8 832.8,737.4 835.8,736.0 838.9,734.6 841.9,733.2 844.9,731.8 848.0,730.4 851.0,729.0 854.0,727.6 857.0,726.2 860.1,724.8 863.1,723.4 866.1,722.0 869.2,720.7 872.2,719.3 875.3,717.9 878.3,716.5 881.3,715.1 884.4,713.8 887.4,712.4 890.5,711.0 893.5,709.7 896.6,708.3 899.6,707.0 902.7,705.6 905.7,704.3 908.8,702.9 911.8,701.6 914.9,700.2 917.9,698.9 921.0,697.5 924.0,696.2 927.1,694.8 930.1,693.5 933.2,692.2 936.3,690.8 939.3,689.5 942.4,688.2 945.4,686.8 948.5,685.5 951.6,684.2 954.6,682.9 957.7,681.6 960.8,680.2 963.8,678.9 966.9,677.6 970.0,676.3 973.0,675.0 976.1,673.7 979.2,672.4 982.3,671.1 985.3,669.8 988.4,668.5 991.5,667.2 994.6,665.9 997.6,664.6 1000.7,663.3 1003.8,662.0 1006.9,660.7 1009.9,659.5 1013.0,658.2 1016.1,656.9 1019.2,655.6 1022.3,654.3 1025.4,653.1 1028.4,651.8 1031.5,650.5 1034.6,649.2 1037.7,648.0 1040.8,646.7 1043.9,645.4 1047.0,644.2 1050.1,642.9 1053.1,641.6 1056.2,640.4 1059.3,639.1 1062.4,637.9 1065.5,636.6 1068.6,635.4 1071.7,634.1 1074.8,632.9 1077.9,631.6 1081.0,630.4 1084.1,629.2 1087.2,627.9 1090.3,626.7 1093.4,625.4 1096.5,624.2 1099.6,623.0 1102.7,621.7 1105.8,620.5 1108.9,619.3 1112.0,618.1 1115.1,616.8 1118.2,615.6 1121.3,614.4 1124.4,613.2 1127.5,612.0 1130.6,610.7 1133.7,609.5 1136.9,608.3 1140.0,607.1 1143.1,605.9 1146.2,604.7 1149.3,603.5 1152.4,602.3 1155.5,601.1 1158.6,599.9 1161.8,598.7 1164.9,597.5 1168.0,596.3 1171.1,595.1 1174.2,593.9 1177.3,592.7 1180.5,591.5 1183.6,590.3 1186.7,589.2 1189.8,588.0 1192.9,586.8 1196.1,585.6 1199.2,584.4 1202.3,583.3 1205.4,582.1 1208.6,580.9 1211.7,579.7 1214.8,578.6 1217.9,577.4 1221.1,576.2 1224.2,575.1 1227.3,573.9 1230.5,572.7 1233.6,571.6 1236.7,570.4 1239.9,569.3 1243.0,568.1 1246.1,567.0 1249.2,565.8 1252.4,564.7 1255.5,563.5 1258.7,562.4 1261.8,561.2 1264.9,560.1 1268.1,558.9 1271.2,557.8 1274.3,556.6 1277.5,555.5 1280.6,554.4 1283.8,553.2 1286.9,552.1 1290.0,551.0 1293.2,549.8 1296.3,548.7 1299.5,547.6 1302.6,546.5 1305.7,545.3 1308.9,544.2 1312.0,543.1 1315.2,542.0 1318.3,540.8 1321.5,539.7 1324.6,538.6 1327.8,537.5 1330.9,536.4 1334.1,535.3 1337.2,534.2 1340.4,533.1 1343.5,532.0 1346.7,530.9 1349.8,529.7 1353.0,528.6 1356.1,527.5 1359.3,526.4 1362.4,525.3 1365.6,524.3 1368.7,523.2 1371.9,522.1 1375.0,521.0 1378.2,519.9 1381.3,518.8 1384.5,517.7 1387.7,516.6 1390.8,515.5 1394.0,514.5 1397.1,513.4 1400.3,512.3 1403.4,511.2 1406.6,510.1 1409.8,509.1 1412.9,508.0 1416.1,506.9 1419.3,505.8 1422.4,504.8 1425.6,503.7 1428.7,502.6 1431.9,501.6 1435.1,500.5 1438.2,499.4 1441.4,498.4 1444.6,497.3 1447.7,496.2 1450.9,495.2 1454.1,494.1 1457.2,493.1 1460.4,492.0 1463.6,491.0 1466.7,489.9 1469.9,488.9 1473.1,487.8 1476.2,486.8 1479.4,485.7 1482.6,484.7 1485.8,483.6 1488.9,482.6 1492.1,481.5 1495.3,480.5 1498.4,479.5 1501.6,478.4 1504.8,477.4 1508.0,476.4 1511.1,475.3 1514.3,474.3 1517.5,473.3 1520.7,472.2 1523.8,471.2 1527.0,470.2 1530.2,469.1 1533.4,468.1 1536.5,467.1 1539.7,466.1 1542.9,465.0 1546.1,464.0 1549.3,463.0 1552.4,462.0 1555.6,461.0 1558.8,460.0 1562.0,458.9 1565.2,457.9 1568.3,456.9 1571.5,455.9 1574.7,454.9 1577.9,453.9 1581.1,452.9 1584.3,451.9 1587.4,450.9 1590.6,449.9 1593.8,448.9 1597.0,447.9 1600.2,446.9 1603.4,445.9 1606.5,444.9 1609.7,443.9 1612.9,442.9 1616.1,441.9 1619.3,440.9 1622.5,439.9 1625.7,438.9 1628.8,437.9 1632.0,436.9 1635.2,435.9 1638.4,435.0 1641.6,434.0 1644.8,433.0 1648.0,432.0 1651.2,431.0 1654.4,430.0 1657.5,429.1 1660.7,428.1 1663.9,427.1 1667.1,426.1 1670.3,425.2 1673.5,424.2 1676.7,423.2 1679.9,422.2 1683.1,421.3 1686.3,420.3 1689.5,419.3 1692.7,418.4 1695.8,417.4 1699.0,416.4 1702.2,415.5 1705.4,414.5 1708.6,413.5 1711.8,412.6 1715.0,411.6 1718.2,410.6 1721.4,409.7 1724.6,408.7 1727.8,407.8 1731.0,406.8 1734.2,405.9 1737.4,404.9 1740.6,404.0 1743.8,403.0 1747.0,402.1 1750.2,401.1 1753.4,400.2 1756.6,399.2 1759.8,398.3 1763.0,397.3 1766.2,396.4 1769.4,395.4 1772.6,394.5 1775.8,393.5 1779.0,392.6 1782.2,391.7 1785.4,390.7 1788.6,389.8 1791.8,388.8 1795.0,387.9 1798.2,387.0 1801.4,386.0 1804.6,385.1 1807.8,384.2 1811.0,383.2 1814.2,382.3 1817.4,381.4 1820.6,380.4 1823.8,379.5 1827.0,378.6 1830.2,377.7 1833.4,376.7"/>
<polyline fill="none" stroke="#76501c" stroke-width="5" stroke-linejoin="round" points="181.5,1346.8 181.8,1343.4 182.1,1340.0 182.4,1336.6 182.8,1333.2 183.1,1329.8 183.5,1326.4 183.9,1323.0 184.3,1319.6 184.7,1316.2 185.1,1312.8 185.6,1309.4 186.1,1306.0 186.5,1302.7 187.0,1299.3 187.6,1295.9 188.1,1292.5 188.6,1289.1 189.2,1285.7 189.8,1282.3 190.4,1279.0 191.0,1275.6 191.7,1272.2 192.3,1268.9 193.0,1265.5 193.7,1262.1 194.4,1258.8 195.2,1255.4 196.0,1252.1 196.8,1248.8 197.6,1245.4 198.4,1242.1 199.3,1238.8 200.1,1235.5 201.0,1232.2 202.0,1228.9 202.9,1225.6 203.9,1222.3 204.9,1219.1 205.9,1215.8 207.0,1212.5 208.1,1209.3 209.2,1206.1 210.3,1202.8 211.4,1199.6 212.6,1196.4 213.8,1193.2 215.1,1190.0 216.3,1186.9 217.6,1183.7 219.0,1180.6 220.3,1177.4 221.7,1174.3 223.1,1171.2 224.5,1168.1 226.0,1165.0 227.5,1161.9 229.0,1158.8 230.5,1155.8 232.1,1152.8 233.7,1149.7 235.3,1146.7 237.0,1143.7 238.6,1140.8 240.3,1137.8 242.1,1134.8 243.8,1131.9 245.6,1129.0 247.4,1126.1 249.2,1123.2 251.1,1120.3 252.9,1117.4 254.8,1114.6 256.7,1111.8 258.7,1109.0 260.7,1106.2 262.6,1103.4 264.6,1100.6 266.7,1097.8 268.7,1095.1 270.8,1092.4 272.8,1089.6 274.9,1086.9 277.1,1084.2 279.2,1081.5 281.3,1078.9 283.5,1076.2 285.7,1073.6 287.9,1070.9 290.1,1068.3 292.3,1065.7 294.5,1063.1 296.8,1060.5 299.0,1057.9 301.3,1055.3 303.6,1052.8 305.9,1050.2 308.2,1047.7 310.5,1045.1 312.8,1042.6 315.1,1040.1 317.5,1037.6 319.8,1035.1 322.2,1032.6 324.5,1030.1 326.9,1027.6 329.3,1025.2 331.7,1022.7 334.1,1020.3 336.5,1017.8 338.9,1015.4 341.3,1013.0 343.7,1010.6 346.2,1008.2 348.6,1005.8 351.1,1003.4 353.5,1001.0 356.0,998.6 358.5,996.2 361.0,993.9 363.5,991.5 366.0,989.2 368.5,986.9 371.0,984.5 373.5,982.2 376.0,979.9 378.6,977.6 381.1,975.3 383.7,973.0 386.2,970.7 388.8,968.5 391.3,966.2 393.9,963.9 396.5,961.7 399.1,959.4 401.7,957.2 404.3,955.0 406.9,952.7 409.5,950.5 412.1,948.3 414.8,946.1 417.4,943.9 420.0,941.7 422.7,939.5 425.3,937.4 428.0,935.2 430.7,933.0 433.3,930.9 436.0,928.7 438.7,926.6 441.4,924.4 444.1,922.3 446.8,920.2 449.5,918.1 452.2,916.0 454.9,913.8 457.6,911.7 460.3,909.7 463.0,907.6 465.8,905.5 468.5,903.4 471.2,901.3 474.0,899.3 476.7,897.2 479.5,895.2 482.2,893.1 485.0,891.1 487.8,889.0 490.5,887.0 493.3,885.0 496.1,882.9 498.9,880.9 501.7,878.9 504.4,876.9 507.2,874.9 510.0,872.9 512.8,870.9 515.6,868.9 518.4,867.0 521.3,865.0 524.1,863.0 526.9,861.0 529.7,859.1 532.5,857.1 535.3,855.2 538.2,853.2 541.0,851.3 543.8,849.3 546.7,847.4 549.5,845.5 552.4,843.6 555.2,841.6 558.0,839.7 560.9,837.8 563.7,835.9 566.6,834.0 569.5,832.1 572.3,830.2 575.2,828.3 578.0,826.4 580.9,824.5 583.8,822.7 586.7,820.8 589.5,818.9 592.4,817.1 595.3,815.2 598.2,813.3 601.1,811.5 604.0,809.6 606.9,807.8 609.7,806.0 612.6,804.1 615.5,802.3 618.4,800.5 621.4,798.6 624.3,796.8 627.2,795.0 630.1,793.2 633.0,791.4 635.9,789.6 638.8,787.8 641.8,786.0 644.7,784.2 647.6,782.4 650.5,780.6 653.5,778.9 656.4,777.1 659.3,775.3 662.3,773.5 665.2,771.8 668.2,770.0 671.1,768.3 674.1,766.5 677.0,764.8 680.0,763.0 682.9,761.3 685.9,759.5 688.8,757.8 691.8,756.1 694.7,754.4 697.7,752.6 700.7,750.9 703.6,749.2 706.6,747.5 709.6,745.8 712.6,744.1 715.5,742.4 718.5,740.7 721.5,739.0 724.5,737.3 727.5,735.6 730.5,733.9 733.5,732.2 736.4,730.6 739.4,728.9 742.4,727.2 745.4,725.6 748.4,723.9 751.4,722.2 754.4,720.6 757.4,718.9 760.4,717.3 763.5,715.6 766.5,714.0 769.5,712.3 772.5,710.7 775.5,709.1 778.5,707.4 781.5,705.8 784.6,704.2 787.6,702.6 790.6,701.0 793.6,699.3 796.7,697.7 799.7,696.1 802.7,694.5 805.8,692.9 808.8,691.3 811.8,689.7 814.9,688.1 817.9,686.5 821.0,684.9 824.0,683.4 827.0,681.8 830.1,680.2 833.1,678.6 836.2,677.0 839.2,675.5 842.3,673.9 845.3,672.3 848.4,670.8 851.5,669.2 854.5,667.7 857.6,666.1 860.6,664.6 863.7,663.0 866.8,661.5 869.8,659.9 872.9,658.4 876.0,656.9 879.0,655.3 882.1,653.8 885.2,652.3 888.3,650.7 891.3,649.2 894.4,647.7 897.5,646.2 900.6,644.7 903.6,643.1 906.7,641.6 909.8,640.1 912.9,638.6 916.0,637.1 919.1,635.6 922.1,634.1 925.2,632.6 928.3,631.1 931.4,629.6 934.5,628.1 937.6,626.6 940.7,625.2 943.8,623.7 946.9,622.2 950.0,620.7 953.1,619.2 956.2,617.8 959.3,616.3 962.4,614.8 965.5,613.4 968.6,611.9 971.7,610.4 974.8,609.0 977.9,607.5 981.0,606.1 984.1,604.6 987.2,603.2 990.3,601.7 993.4,600.3 996.5,598.8 999.7,597.4 1002.8,595.9 1005.9,594.5 1009.0,593.0 1012.1,591.6 1015.2,590.2 1018.4,588.7 1021.5,587.3 1024.6,585.9 1027.7,584.5 1030.8,583.0 1034.0,581.6 1037.1,580.2 1040.2,578.8 1043.3,577.4 1046.5,576.0 1049.6,574.5 1052.7,573.1 1055.8,571.7 1059.0,570.3 1062.1,568.9 1065.2,567.5 1068.4,566.1 1071.5,564.7 1074.6,563.3 1077.8,561.9 1080.9,560.6 1084.0,559.2 1087.2,557.8 1090.3,556.4 1093.5,555.0 1096.6,553.6 1099.7,552.3 1102.9,550.9 1106.0,549.5 1109.2,548.1 1112.3,546.8 1115.5,545.4 1118.6,544.0 1121.8,542.7 1124.9,541.3 1128.1,539.9 1131.2,538.6 1134.4,537.2 1137.5,535.9 1140.7,534.5 1143.8,533.2 1147.0,531.8 1150.1,530.5 1153.3,529.1 1156.4,527.8 1159.6,526.4 1162.8,525.1 1165.9,523.8 1169.1,522.4 1172.2,521.1 1175.4,519.8 1178.6,518.4 1181.7,517.1 1184.9,515.8 1188.0,514.5 1191.2,513.1 1194.4,511.8 1197.5,510.5 1200.7,509.2 1203.9,507.9 1207.1,506.6 1210.2,505.3 1213.4,503.9 1216.6,502.6 1219.7,501.3 1222.9,500.0 1226.1,498.7 1229.3,497.4 1232.4,496.1 1235.6,494.8 1238.8,493.5 1242.0,492.2 1245.1,491.0 1248.3,489.7 1251.5,488.4 1254.7,487.1 1257.9,485.8 1261.0,484.5 1264.2,483.3 1267.4,482.0 1270.6,480.7 1273.8,479.4 1277.0,478.2 1280.2,476.9 1283.3,475.6 1286.5,474.3 1289.7,473.1 1292.9,471.8 1296.1,470.6 1299.3,469.3 1302.5,468.0 1305.7,466.8 1308.9,465.5 1312.1,464.3 1315.3,463.0 1318.4,461.8 1321.6,460.5 1324.8,459.3 1328.0,458.0 1331.2,456.8 1334.4,455.5 1337.6,454.3 1340.8,453.1 1344.0,451.8 1347.2,450.6 1350.4,449.4 1353.6,448.1 1356.8,446.9 1360.0,445.7 1363.2,444.4 1366.5,443.2 1369.7,442.0 1372.9,440.8 1376.1,439.6 1379.3,438.3 1382.5,437.1 1385.7,435.9 1388.9,434.7 1392.1,433.5 1395.3,432.3 1398.5,431.1 1401.7,429.9 1405.0,428.7 1408.2,427.5 1411.4,426.3 1414.6,425.1 1417.8,423.9 1421.0,422.7 1424.2,421.5 1427.5,420.3 1430.7,419.1 1433.9,417.9 1437.1,416.7 1440.3,415.5 1443.6,414.3 1446.8,413.1 1450.0,412.0 1453.2,410.8 1456.4,409.6 1459.7,408.4 1462.9,407.2 1466.1,406.1 1469.3,404.9 1472.6,403.7 1475.8,402.6 1479.0,401.4 1482.2,400.2 1485.5,399.0 1488.7,397.9 1491.9,396.7 1495.2,395.6 1498.4,394.4 1501.6,393.2 1504.8,392.1 1508.1,390.9 1511.3,389.8 1514.5,388.6 1517.8,387.5 1521.0,386.3 1524.2,385.2 1527.5,384.0 1530.7,382.9 1533.9,381.7 1537.2,380.6 1540.4,379.5 1543.6,378.3 1546.9,377.2 1550.1,376.0 1553.4,374.9 1556.6,373.8 1559.8,372.6 1563.1,371.5 1566.3,370.4 1569.6,369.3 1572.8,368.1 1576.0,367.0 1579.3,365.9 1582.5,364.8 1585.8,363.6 1589.0,362.5 1592.3,361.4 1595.5,360.3 1598.7,359.2 1602.0,358.1 1605.2,357.0 1608.5,355.8 1611.7,354.7 1615.0,353.6 1618.2,352.5 1621.5,351.4 1624.7,350.3 1628.0,349.2 1631.2,348.1 1634.5,347.0 1637.7,345.9 1641.0,344.8 1644.2,343.7 1647.5,342.6 1650.7,341.5 1654.0,340.4 1657.2,339.3 1660.5,338.3 1663.7,337.2 1667.0,336.1 1670.2,335.0 1673.5,333.9 1676.8,332.8 1680.0,331.7 1683.3,330.7 1686.5,329.6 1689.8,328.5 1693.0,327.4 1696.3,326.4 1699.5,325.3 1702.8,324.2 1706.1,323.1 1709.3,322.1 1712.6,321.0 1715.8,319.9 1719.1,318.9 1722.4,317.8 1725.6,316.7 1728.9,315.7 1732.1,314.6 1735.4,313.5 1738.7,312.5 1741.9,311.4 1745.2,310.4 1748.5,309.3 1751.7,308.3 1755.0,307.2 1758.3,306.2 1761.5,305.1 1764.8,304.1 1768.1,303.0 1771.3,302.0 1774.6,300.9 1777.8,299.9 1781.1,298.8 1784.4,297.8 1787.7,296.7 1790.9,295.7 1794.2,294.7 1797.5,293.6 1800.7,292.6 1804.0,291.6 1807.3,290.5 1810.5,289.5 1813.8,288.4 1817.1,287.4 1820.3,286.4 1823.6,285.4 1826.9,284.3 1830.2,283.3 1833.4,282.3"/>
<polyline fill="none" stroke="#151515" stroke-width="5" stroke-linejoin="round" points="181.9,1346.8 182.3,1343.5 182.8,1340.1 183.2,1336.7 183.7,1333.4 184.1,1330.0 184.6,1326.6 185.0,1323.3 185.5,1319.9 186.0,1316.5 186.4,1313.2 186.9,1309.8 187.4,1306.4 188.0,1303.1 188.5,1299.7 189.0,1296.3 189.6,1293.0 190.1,1289.6 190.7,1286.3 191.3,1282.9 191.9,1279.6 192.6,1276.2 193.2,1272.9 193.9,1269.5 194.5,1266.2 195.2,1262.8 196.0,1259.5 196.7,1256.2 197.5,1252.9 198.2,1249.6 199.0,1246.3 199.9,1242.9 200.7,1239.7 201.6,1236.4 202.4,1233.1 203.3,1229.8 204.3,1226.5 205.2,1223.3 206.2,1220.0 207.2,1216.8 208.2,1213.6 209.3,1210.3 210.4,1207.1 211.5,1203.9 212.6,1200.7 213.7,1197.5 214.9,1194.4 216.1,1191.2 217.4,1188.0 218.6,1184.9 219.9,1181.8 221.3,1178.6 222.6,1175.5 224.0,1172.4 225.4,1169.4 226.9,1166.3 228.3,1163.2 229.8,1160.2 231.3,1157.2 232.9,1154.1 234.5,1151.1 236.1,1148.2 237.7,1145.2 239.4,1142.2 241.1,1139.3 242.8,1136.4 244.5,1133.4 246.3,1130.5 248.1,1127.7 249.9,1124.8 251.7,1121.9 253.6,1119.1 255.5,1116.3 257.4,1113.5 259.3,1110.7 261.3,1107.9 263.3,1105.2 265.3,1102.4 267.3,1099.7 269.3,1097.0 271.4,1094.3 273.5,1091.6 275.6,1088.9 277.7,1086.3 279.9,1083.6 282.0,1081.0 284.2,1078.4 286.4,1075.8 288.6,1073.2 290.9,1070.6 293.1,1068.1 295.4,1065.5 297.6,1063.0 299.9,1060.5 302.2,1058.0 304.6,1055.5 306.9,1053.0 309.2,1050.5 311.6,1048.0 314.0,1045.6 316.3,1043.1 318.7,1040.7 321.1,1038.3 323.5,1035.9 325.9,1033.5 328.4,1031.1 330.8,1028.7 333.2,1026.4 335.7,1024.0 338.2,1021.6 340.6,1019.3 343.1,1017.0 345.6,1014.6 348.1,1012.3 350.6,1010.0 353.1,1007.7 355.6,1005.4 358.1,1003.1 360.6,1000.8 363.1,998.5 365.7,996.2 368.2,993.9 370.7,991.7 373.3,989.4 375.8,987.1 378.4,984.9 380.9,982.6 383.5,980.4 386.0,978.1 388.6,975.9 391.1,973.6 393.7,971.4 396.3,969.2 398.9,967.0 401.5,964.8 404.1,962.6 406.6,960.4 409.2,958.2 411.9,956.0 414.5,953.8 417.1,951.6 419.7,949.5 422.4,947.3 425.0,945.2 427.6,943.0 430.3,940.9 433.0,938.8 435.6,936.7 438.3,934.6 441.0,932.5 443.7,930.4 446.3,928.3 449.0,926.2 451.8,924.1 454.5,922.1 457.2,920.0 459.9,918.0 462.6,915.9 465.4,913.9 468.1,911.8 470.8,909.8 473.6,907.8 476.3,905.8 479.1,903.8 481.8,901.8 484.6,899.8 487.4,897.8 490.2,895.8 492.9,893.9 495.7,891.9 498.5,889.9 501.3,888.0 504.1,886.0 506.9,884.1 509.7,882.1 512.5,880.2 515.3,878.3 518.1,876.3 520.9,874.4 523.8,872.5 526.6,870.6 529.4,868.7 532.2,866.8 535.1,864.9 537.9,863.0 540.8,861.1 543.6,859.2 546.4,857.4 549.3,855.5 552.1,853.6 555.0,851.7 557.8,849.9 560.7,848.0 563.6,846.2 566.4,844.3 569.3,842.5 572.1,840.6 575.0,838.8 577.9,837.0 580.8,835.1 583.6,833.3 586.5,831.5 589.4,829.7 592.3,827.9 595.2,826.1 598.1,824.3 601.0,822.5 603.9,820.7 606.7,818.9 609.6,817.1 612.6,815.3 615.5,813.5 618.4,811.8 621.3,810.0 624.2,808.2 627.1,806.5 630.0,804.7 632.9,803.0 635.9,801.2 638.8,799.5 641.7,797.7 644.6,796.0 647.6,794.3 650.5,792.5 653.4,790.8 656.4,789.1 659.3,787.4 662.3,785.7 665.2,783.9 668.1,782.2 671.1,780.5 674.0,778.8 677.0,777.1 679.9,775.4 682.9,773.8 685.9,772.1 688.8,770.4 691.8,768.7 694.8,767.0 697.7,765.4 700.7,763.7 703.7,762.0 706.6,760.4 709.6,758.7 712.6,757.1 715.6,755.4 718.5,753.8 721.5,752.1 724.5,750.5 727.5,748.9 730.5,747.2 733.5,745.6 736.5,744.0 739.5,742.3 742.5,740.7 745.5,739.1 748.5,737.5 751.5,735.9 754.5,734.3 757.5,732.7 760.5,731.1 763.5,729.5 766.5,727.9 769.5,726.3 772.5,724.7 775.5,723.1 778.6,721.5 781.6,720.0 784.6,718.4 787.6,716.8 790.6,715.3 793.7,713.7 796.7,712.1 799.7,710.6 802.8,709.0 805.8,707.5 808.8,705.9 811.9,704.4 814.9,702.8 817.9,701.3 821.0,699.7 824.0,698.2 827.1,696.7 830.1,695.1 833.2,693.6 836.2,692.1 839.3,690.6 842.3,689.0 845.4,687.5 848.4,686.0 851.5,684.5 854.5,683.0 857.6,681.5 860.6,680.0 863.7,678.5 866.8,677.0 869.8,675.5 872.9,674.0 875.9,672.5 879.0,671.0 882.1,669.5 885.1,668.0 888.2,666.6 891.3,665.1 894.4,663.6 897.4,662.1 900.5,660.7 903.6,659.2 906.7,657.7 909.7,656.3 912.8,654.8 915.9,653.4 919.0,651.9 922.1,650.4 925.1,649.0 928.2,647.5 931.3,646.1 934.4,644.7 937.5,643.2 940.6,641.8 943.7,640.3 946.8,638.9 949.9,637.5 952.9,636.0 956.0,634.6 959.1,633.2 962.2,631.8 965.3,630.3 968.4,628.9 971.5,627.5 974.6,626.1 977.7,624.7 980.8,623.2 983.9,621.8 987.0,620.4 990.1,619.0 993.2,617.6 996.3,616.2 999.4,614.8 1002.6,613.4 1005.7,612.0 1008.8,610.6 1011.9,609.2 1015.0,607.8 1018.1,606.4 1021.2,605.1 1024.3,603.7 1027.4,602.3 1030.6,600.9 1033.7,599.5 1036.8,598.2 1039.9,596.8 1043.0,595.4 1046.1,594.0 1049.3,592.7 1052.4,591.3 1055.5,589.9 1058.6,588.6 1061.8,587.2 1064.9,585.9 1068.0,584.5 1071.1,583.1 1074.3,581.8 1077.4,580.4 1080.5,579.1 1083.6,577.7 1086.8,576.4 1089.9,575.1 1093.0,573.7 1096.2,572.4 1099.3,571.0 1102.4,569.7 1105.6,568.4 1108.7,567.0 1111.8,565.7 1115.0,564.4 1118.1,563.1 1121.2,561.7 1124.4,560.4 1127.5,559.1 1130.7,557.8 1133.8,556.5 1136.9,555.1 1140.1,553.8 1143.2,552.5 1146.4,551.2 1149.5,549.9 1152.7,548.6 1155.8,547.3 1159.0,546.0 1162.1,544.7 1165.3,543.4 1168.4,542.1 1171.6,540.8 1174.7,539.5 1177.9,538.2 1181.0,536.9 1184.2,535.6 1187.3,534.4 1190.5,533.1 1193.6,531.8 1196.8,530.5 1200.0,529.2 1203.1,528.0 1206.3,526.7 1209.4,525.4 1212.6,524.1 1215.8,522.9 1218.9,521.6 1222.1,520.3 1225.2,519.1 1228.4,517.8 1231.6,516.5 1234.7,515.3 1237.9,514.0 1241.1,512.8 1244.2,511.5 1247.4,510.3 1250.6,509.0 1253.7,507.8 1256.9,506.5 1260.1,505.3 1263.3,504.0 1266.4,502.8 1269.6,501.6 1272.8,500.3 1275.9,499.1 1279.1,497.9 1282.3,496.6 1285.5,495.4 1288.7,494.2 1291.8,492.9 1295.0,491.7 1298.2,490.5 1301.4,489.3 1304.5,488.0 1307.7,486.8 1310.9,485.6 1314.1,484.4 1317.3,483.2 1320.5,482.0 1323.6,480.8 1326.8,479.6 1330.0,478.3 1333.2,477.1 1336.4,475.9 1339.6,474.7 1342.8,473.5 1345.9,472.3 1349.1,471.1 1352.3,469.9 1355.5,468.8 1358.7,467.6 1361.9,466.4 1365.1,465.2 1368.3,464.0 1371.5,462.8 1374.7,461.6 1377.9,460.4 1381.1,459.3 1384.3,458.1 1387.5,456.9 1390.7,455.7 1393.9,454.6 1397.1,453.4 1400.3,452.2 1403.5,451.0 1406.7,449.9 1409.9,448.7 1413.1,447.5 1416.3,446.4 1419.5,445.2 1422.7,444.1 1425.9,442.9 1429.1,441.8 1432.3,440.6 1435.5,439.4 1438.7,438.3 1441.9,437.1 1445.1,436.0 1448.3,434.8 1451.5,433.7 1454.7,432.6 1457.9,431.4 1461.1,430.3 1464.4,429.1 1467.6,428.0 1470.8,426.9 1474.0,425.7 1477.2,424.6 1480.4,423.5 1483.6,422.3 1486.8,421.2 1490.1,420.1 1493.3,418.9 1496.5,417.8 1499.7,416.7 1502.9,415.6 1506.1,414.5 1509.4,413.3 1512.6,412.2 1515.8,411.1 1519.0,410.0 1522.2,408.9 1525.5,407.8 1528.7,406.7 1531.9,405.6 1535.1,404.4 1538.4,403.3 1541.6,402.2 1544.8,401.1 1548.0,400.0 1551.2,398.9 1554.5,397.8 1557.7,396.7 1560.9,395.6 1564.2,394.6 1567.4,393.5 1570.6,392.4 1573.8,391.3 1577.1,390.2 1580.3,389.1 1583.5,388.0 1586.8,386.9 1590.0,385.9 1593.2,384.8 1596.4,383.7 1599.7,382.6 1602.9,381.5 1606.1,380.5 1609.4,379.4 1612.6,378.3 1615.8,377.2 1619.1,376.2 1622.3,375.1 1625.6,374.0 1628.8,373.0 1632.0,371.9 1635.3,370.8 1638.5,369.8 1641.7,368.7 1645.0,367.7 1648.2,366.6 1651.5,365.6 1654.7,364.5 1657.9,363.4 1661.2,362.4 1664.4,361.3 1667.7,360.3 1670.9,359.2 1674.1,358.2 1677.4,357.1 1680.6,356.1 1683.9,355.1 1687.1,354.0 1690.4,353.0 1693.6,351.9 1696.8,350.9 1700.1,349.9 1703.3,348.8 1706.6,347.8 1709.8,346.8 1713.1,345.7 1716.3,344.7 1719.6,343.7 1722.8,342.6 1726.1,341.6 1729.3,340.6 1732.6,339.6 1735.8,338.5 1739.1,337.5 1742.3,336.5 1745.6,335.5 1748.8,334.5 1752.1,333.5 1755.3,332.4 1758.6,331.4 1761.8,330.4 1765.1,329.4 1768.3,328.4 1771.6,327.4 1774.8,326.4 1778.1,325.4 1781.3,324.4 1784.6,323.4 1787.9,322.3 1791.1,321.3 1794.4,320.3 1797.6,319.3 1800.9,318.3 1804.1,317.4 1807.4,316.4 1810.7,315.4 1813.9,314.4 1817.2,313.4 1820.4,312.4 1823.7,311.4 1826.9,310.4 1830.2,309.4 1833.5,308.4"/>
<rect x="180.8" y="23.9" width="1652.2" height="1322.9" fill="none" stroke="#3e3e3e" stroke-width="4.8"/>
<line x1="180.8" y1="1126.4" x2="202.5" y2="1126.4" stroke="#282828" stroke-width="4.4"/>
<line x1="1833.0" y1="1126.4" x2="1815" y2="1126.4" stroke="#282828" stroke-width="4.4"/>
<line x1="180.8" y1="905.5" x2="202.5" y2="905.5" stroke="#282828" stroke-width="4.4"/>
<line x1="1833.0" y1="905.5" x2="1815" y2="905.5" stroke="#282828" stroke-width="4.4"/>
<line x1="180.8" y1="685.0" x2="202.5" y2="685.0" stroke="#282828" stroke-width="4.4"/>
<line x1="1833.0" y1="685.0" x2="1815" y2="685.0" stroke="#282828" stroke-width="4.4"/>
<line x1="180.8" y1="464.8" x2="202.5" y2="464.8" stroke="#282828" stroke-width="4.4"/>
<line x1="1833.0" y1="464.8" x2="1815" y2="464.8" stroke="#282828" stroke-width="4.4"/>
<line x1="180.8" y1="247.3" x2="202.5" y2="247.3" stroke="#282828" stroke-width="4.4"/>
<line x1="1833.0" y1="247.3" x2="1815" y2="247.3" stroke="#282828" stroke-width="4.4"/>
<line x1="509.0" y1="1346.8" x2="509.0" y2="1325" stroke="#282828" stroke-width="4.4"/>
<line x1="509.0" y1="23.9" x2="509.0" y2="46.5" stroke="#282828" stroke-width="4.4"/>
<line x1="840.1" y1="1346.8" x2="840.1" y2="1325" stroke="#282828" stroke-width="4.4"/>
<line x1="840.1" y1="23.9" x2="840.1" y2="46.5" stroke="#282828" stroke-width="4.4"/>
<line x1="1171.0" y1="1346.8" x2="1171.0" y2="1325" stroke="#282828" stroke-width="4.4"/>
<line x1="1171.0" y1="23.9" x2="1171.0" y2="46.5" stroke="#282828" stroke-width="4.4"/>
<line x1="1503.3" y1="1346.8" x2="1503.3" y2="1325" stroke="#282828" stroke-width="4.4"/>
<line x1="1503.3" y1="23.9" x2="1503.3" y2="46.5" stroke="#282828" stroke-width="4.4"/>
<rect x="210.6" y="53.1" width="278.2" height="391.4" fill="#fff" stroke="#353535" stroke-width="4.8"/>
<line x1="215" y1="85.8" x2="302" y2="85.8" stroke="#1a1a8a" stroke-width="5"/>
<text x="318" y="100.1" font-family="Liberation Serif, serif" font-size="51.8" fill="#1c1c1c">470 nm</text>
<line x1="215" y1="151.0" x2="302" y2="151.0" stroke="#8edf4c" stroke-width="5"/>
<text x="318" y="165.3" font-family="Liberation Serif, serif" font-size="51.8" fill="#1c1c1c">525 nm</text>
<line x1="215" y1="214.8" x2="302" y2="214.8" stroke="#2c7530" stroke-width="5"/>
<text x="318" y="229.1" font-family="Liberation Serif, serif" font-size="51.8" fill="#1c1c1c">568 nm</text>
<line x1="215" y1="280.6" x2="302" y2="280.6" stroke="#b02226" stroke-width="5"/>
<text x="318" y="294.9" font-family="Liberation Serif, serif" font-size="51.8" fill="#1c1c1c">660 nm</text>
<line x1="215" y1="346.0" x2="302" y2="346.0" stroke="#76501c" stroke-width="5"/>
<text x="318" y="360.3" font-family="Liberation Serif, serif" font-size="51.8" fill="#1c1c1c">805 nm</text>
<line x1="215" y1="409.2" x2="302" y2="409.2" stroke="#151515" stroke-width="5"/>
<text x="318" y="423.5" font-family="Liberation Serif, serif" font-size="51.8" fill="#1c1c1c">940 nm</text>
<text x="177.3" y="44.2" text-anchor="end" font-family="Liberation Serif, serif" font-size="40.5" fill="#454545">0.3</text>
<text x="177.3" y="267.6" text-anchor="end" font-family="Liberation Serif, serif" font-size="40.5" fill="#454545">0.25</text>
<text x="177.3" y="485.1" text-anchor="end" font-family="Liberation Serif, serif" font-size="40.5" fill="#454545">0.2</text>
<text x="177.3" y="705.3" text-anchor="end" font-family="Liberation Serif, serif" font-size="40.5" fill="#454545">0.15</text>
<text x="177.3" y="925.8" text-anchor="end" font-family="Liberation Serif, serif" font-size="40.5" fill="#454545">0.1</text>
<text x="177.3" y="1146.7" text-anchor="end" font-family="Liberation Serif, serif" font-size="40.5" fill="#454545">0.05</text>
<text x="177.3" y="1367.1" text-anchor="end" font-family="Liberation Serif, serif" font-size="40.5" fill="#454545">0</text>
<text x="180.5" y="1396.5" text-anchor="start" font-family="Liberation Serif, serif" font-size="40.5" fill="#454545">0</text>
<text x="517" y="1396.5" text-anchor="middle" font-family="Liberation Serif, serif" font-size="40.5" fill="#454545">0.2</text>
<text x="849" y="1396.5" text-anchor="middle" font-family="Liberation Serif, serif" font-size="40.5" fill="#454545">0.4</text>
<text x="1180" y="1396.5" text-anchor="middle" font-family="Liberation Serif, serif" font-size="40.5" fill="#454545">0.6</text>
<text x="1512" y="1396.5" text-anchor="middle" font-family="Liberation Serif, serif" font-size="40.5" fill="#454545">0.8</text>
<text x="1841" y="1396.5" text-anchor="end" font-family="Liberation Serif, serif" font-size="40.5" fill="#454545">1</text>
<text x="913" y="1460" font-family="Liberation Serif, serif" font-size="71" fill="#1c1c1c"><tspan font-style="italic">d</tspan> (cm)</text>
<text transform="translate(69,690) rotate(-90)" text-anchor="middle" font-family="Liberation Serif, serif" font-size="71" fill="#1c1c1c"><tspan font-style="italic">Z</tspan> (cm)</text>
<text x="1799" y="804.8" font-family="Liberation Serif, serif" font-style="italic" font-size="48.5" fill="#2e2e2e" stroke="#2e2e2e" stroke-width="0.5" text-anchor="end">subcutaneous fat</text>
<text x="1801" y="1061" font-family="Liberation Serif, serif" font-style="italic" font-size="48.5" fill="#2e2e2e" stroke="#2e2e2e" stroke-width="0.5" text-anchor="end">deep blood net dermis</text>
<text x="1795" y="1140.6" font-family="Liberation Serif, serif" font-style="italic" font-size="48.5" fill="#2e2e2e" stroke="#2e2e2e" stroke-width="0.5" text-anchor="end">reticular dermis</text>
<text x="1796" y="1222.5" font-family="Liberation Serif, serif" font-style="italic" font-size="48.5" fill="#2e2e2e" stroke="#2e2e2e" stroke-width="0.5" text-anchor="end">upper blood net dermis</text>
<text x="1795" y="1264.5" font-family="Liberation Serif, serif" font-style="italic" font-size="48.5" fill="#2e2e2e" stroke="#2e2e2e" stroke-width="0.5" text-anchor="end">papillary dermis</text>
<text x="1794" y="1327" font-family="Liberation Serif, serif" font-style="italic" font-size="48.5" fill="#2e2e2e" stroke="#2e2e2e" stroke-width="0.5" text-anchor="end">epidermis</text>
</svg></div>
</body></html>
